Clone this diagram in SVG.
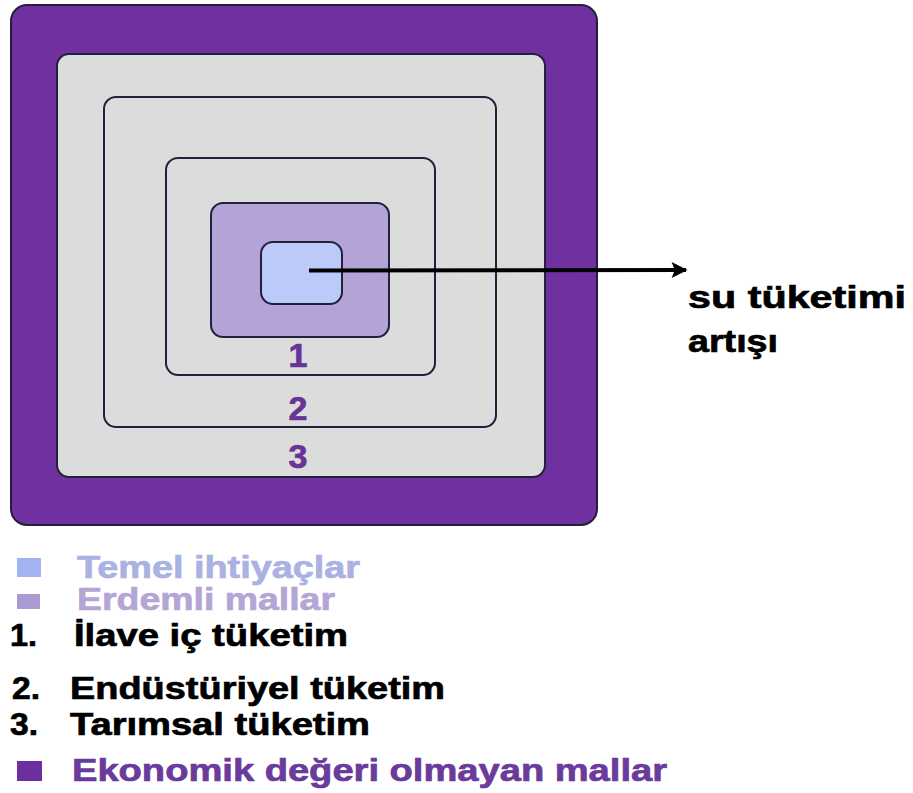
<svg xmlns="http://www.w3.org/2000/svg" width="913" height="793" viewBox="0 0 913 793">
  <style>
    .box { stroke: #22203a; stroke-width: 2; }
    .lbl { font-family: "Liberation Sans", Arial, sans-serif; font-weight: bold; stroke-width: 0.7; }
    .num { font-size: 34px; fill: #6a3397; stroke: #6a3397; text-anchor: middle; }
    .leg { font-size: 31px; }
    .blk { fill: #000; stroke: #000; }
  </style>
  <defs>
    <marker id="head" viewBox="0 0 10 10" refX="9" refY="5" markerWidth="4.5" markerHeight="4" orient="auto" markerUnits="strokeWidth">
      <path d="M0,0 L10,5 L0,10 L2,5 Z" fill="#000"/>
    </marker>
  </defs>
  <rect width="913" height="793" fill="#ffffff"/>

  <!-- nested consumption areas -->
  <g id="outer">
    <rect class="box" x="11" y="5" width="586" height="520" rx="16" fill="#7030a0" stroke="#3a1f52"/>
  </g>
  <g id="ring3">
    <rect class="box" x="57" y="54" width="488" height="423" rx="12" fill="#dcdcdc"/>
    <text class="lbl num" x="298" y="468">3</text>
  </g>
  <g id="ring2">
    <rect class="box" x="104" y="97" width="392" height="330" rx="12" fill="#dcdcdc"/>
    <text class="lbl num" x="298" y="420">2</text>
  </g>
  <g id="ring1">
    <rect class="box" x="166" y="158" width="269" height="217" rx="12" fill="#dcdcdc"/>
    <text class="lbl num" x="298" y="367">1</text>
  </g>
  <g id="merit">
    <rect class="box" x="211" y="203" width="178" height="134" rx="12" fill="#b3a3d6"/>
  </g>
  <g id="basic">
    <rect class="box" x="261" y="242" width="81" height="62" rx="12" fill="#bccafa"/>
  </g>

  <!-- connector -->
  <g id="connectors">
    <line x1="309" y1="270.5" x2="686" y2="270" stroke="#000" stroke-width="4" marker-end="url(#head)"/>
  </g>

  <g id="note">
    <text class="lbl blk" font-size="32" x="688" y="308" textLength="218" lengthAdjust="spacingAndGlyphs">su tüketimi</text>
    <text class="lbl blk" font-size="32" x="688" y="352" textLength="90" lengthAdjust="spacingAndGlyphs">artışı</text>
  </g>

  <!-- legend -->
  <g id="legend">
    <rect x="17" y="558" width="24" height="19" fill="#a3b3f2"/>
    <text class="lbl leg" x="77" y="578" textLength="283" lengthAdjust="spacingAndGlyphs" fill="#a9b2e2" stroke="#a9b2e2">Temel ihtiyaçlar</text>

    <rect x="17" y="594" width="23" height="15" fill="#a99bd1"/>
    <text class="lbl leg" x="77" y="610" textLength="258" lengthAdjust="spacingAndGlyphs" fill="#b3a6d4" stroke="#b3a6d4">Erdemli mallar</text>

    <text class="lbl leg blk" x="10" y="646" textLength="27" lengthAdjust="spacingAndGlyphs">1.</text>
    <text class="lbl leg blk" x="74" y="646" textLength="274" lengthAdjust="spacingAndGlyphs">İlave iç tüketim</text>

    <text class="lbl leg blk" x="12" y="699" textLength="28" lengthAdjust="spacingAndGlyphs">2.</text>
    <text class="lbl leg blk" x="70" y="699" textLength="375" lengthAdjust="spacingAndGlyphs">Endüstüriyel tüketim</text>

    <text class="lbl leg blk" x="10" y="735" textLength="28" lengthAdjust="spacingAndGlyphs">3.</text>
    <text class="lbl leg blk" x="70" y="735" textLength="300" lengthAdjust="spacingAndGlyphs">Tarımsal tüketim</text>

    <rect x="17" y="761" width="25" height="20" fill="#6b2fa0"/>
    <text class="lbl leg" x="72" y="781" textLength="595" lengthAdjust="spacingAndGlyphs" fill="#6a3a9c" stroke="#6a3a9c">Ekonomik değeri olmayan mallar</text>
  </g>
</svg>
